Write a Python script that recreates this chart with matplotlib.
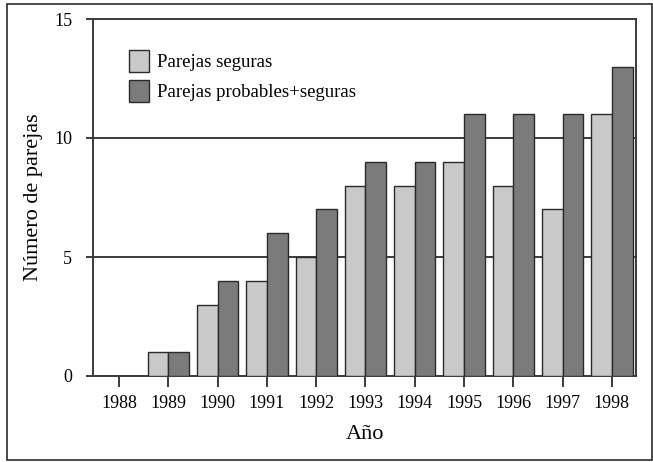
import numpy as np
import matplotlib
matplotlib.use("Agg")
import matplotlib.pyplot as plt
from matplotlib.patches import Rectangle

years = [1988, 1989, 1990, 1991, 1992, 1993, 1994, 1995, 1996, 1997, 1998]
seguras = [0, 1, 3, 4, 5, 8, 8, 9, 8, 7, 11]
probables_seguras = [0, 1, 4, 6, 7, 9, 9, 11, 11, 11, 13]

C_LIGHT = "#c9c9c9"
C_DARK = "#7b7b7b"
C_EDGE = "#2a2a2a"

plt.rcParams.update({
    "font.family": ["Liberation Serif", "DejaVu Serif"],
    "axes.linewidth": 1.4,
    "axes.edgecolor": "#3a3a3a",
})

fig = plt.figure(figsize=(6.53, 4.62), dpi=100)
ax = fig.add_axes([93 / 653, 1 - 376 / 462, (636 - 93) / 653, (376 - 19) / 462])

x = np.array(years)
w = 0.42
ax.bar(x - w / 2, seguras, w, color=C_LIGHT, edgecolor=C_EDGE, lw=1.0,
       label="Parejas seguras", zorder=3)
ax.bar(x + w / 2, probables_seguras, w, color=C_DARK, edgecolor=C_EDGE, lw=1.0,
       label="Parejas probables+seguras", zorder=3)

for yv in (5, 10):
    ax.axhline(yv, color="#3a3a3a", lw=1.4, zorder=1)

ax.set_xlim(1987.47, 1998.49)
ax.set_ylim(0, 15)
ax.set_xticks(years)
ax.set_yticks([0, 5, 10, 15])
ax.tick_params(axis="x", direction="out", length=8, width=1.4,
               labelsize=13, pad=6, color="#3a3a3a")
ax.tick_params(axis="y", direction="out", length=5, width=1.4,
               labelsize=13, pad=10, color="#3a3a3a")
ax.set_xlabel("Año", fontsize=16, labelpad=9)
ax.set_ylabel("Número de parejas", fontsize=16, labelpad=8)

ax.legend(loc="upper left", bbox_to_anchor=(0.035, 0.96), frameon=False,
          fontsize=13.5, handlelength=1.05, handleheight=1.45,
          handletextpad=0.45, labelspacing=0.4)

fig.patches.append(Rectangle((7 / 653, 1 - 460 / 462), 645 / 653, 456 / 462,
                             transform=fig.transFigure, fill=False,
                             edgecolor="#2a2a2a", lw=1.2))

fig.savefig("out.png", dpi=100)
